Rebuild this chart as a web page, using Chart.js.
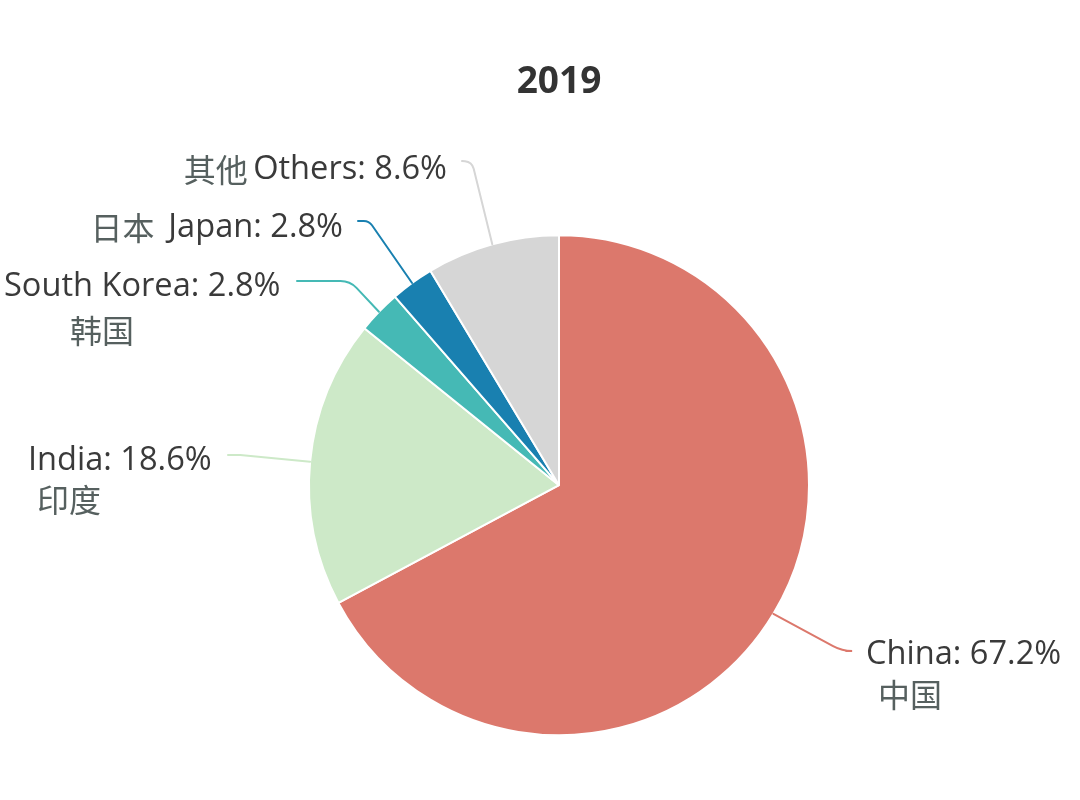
<!DOCTYPE html>
<html>
<head>
<meta charset="utf-8">
<script src="https://cdn.jsdelivr.net/npm/chart.js@4/dist/chart.umd.min.js"></script>
<style>
  html, body { margin: 0; padding: 0; background: #ffffff; }
  #wrap { width: 1080px; height: 800px; position: relative; }
</style>
</head>
<body>
<div id="wrap"><canvas id="c" width="1080" height="800"></canvas></div>
<script>
// ---- data ----
const titleText = '2019';
const categories = ['China', 'India', 'South Korea', 'Japan', 'Others'];
const categoriesCn = ['中国', '印度', '韩国', '日本', '其他'];
const shares = [67.2, 18.6, 2.8, 2.8, 8.6];
const sliceColors = ['#dc786c', '#cde9c8', '#45b9b5', '#1980b0', '#d6d6d6'];

// ---- label layout (text placement only) ----
// cnPos: 'below' = Chinese name on a second line, 'prefix' = before English name
const labelLayout = [
  { cnPos: 'below',  align: 'left',  x: 866, y: 655, x2: 878, y2: 695, elbow: [842, 651], end: [846, 651], r: 40 },
  { cnPos: 'below',  align: 'left',  x: 28,  y: 461, x2: 37,  y2: 500, elbow: [240, 455], end: [228, 455], r: 4 },
  { cnPos: 'below',  align: 'left',  x: 4,   y: 287, x2: 70,  y2: 331, elbow: [350, 281], end: [297, 281], r: 22 },
  { cnPos: 'prefix', align: 'right', x: 343, y: 228, sep: ' \u2009', elbow: [369, 221], end: [358, 221], r: 10 },
  { cnPos: 'prefix', align: 'right', x: 447, y: 170, sep: '\u2009',  elbow: [472, 162], end: [462, 161], r: 10 }
];

const LATIN_FONT = '32.6px "Open Sans", "Noto Sans CJK SC", sans-serif';
const CJK_FONT = '32px "Noto Sans CJK SC", "Open Sans", sans-serif';
const LATIN_COLOR = '#3a3a3a';
const CJK_COLOR = '#56605f';

function isCjk(ch) { return /[\u3000-\u9fff]/.test(ch); }
function runsOf(text) {
  const runs = [];
  for (const ch of text) {
    const c = isCjk(ch);
    if (runs.length && runs[runs.length - 1].cjk === c) runs[runs.length - 1].t += ch;
    else runs.push({ t: ch, cjk: c });
  }
  return runs;
}
function drawMixed(ctx, text, x, y, align) {
  const runs = runsOf(text);
  let total = 0;
  runs.forEach(r => { ctx.font = r.cjk ? CJK_FONT : LATIN_FONT; r.w = ctx.measureText(r.t).width; total += r.w; });
  let cx = align === 'right' ? x - total : x;
  ctx.textAlign = 'left';
  ctx.textBaseline = 'middle';
  runs.forEach(r => {
    ctx.font = r.cjk ? CJK_FONT : LATIN_FONT;
    ctx.fillStyle = r.cjk ? CJK_COLOR : LATIN_COLOR;
    ctx.fillText(r.t, cx, y);
    cx += r.w;
  });
}

const pieLabels = {
  id: 'pieLabels',
  afterDatasetsDraw(chart) {
    const ctx = chart.ctx;
    const meta = chart.getDatasetMeta(0);
    meta.data.forEach((arc, i) => {
      const p = arc.getProps(['x', 'y', 'startAngle', 'endAngle', 'outerRadius'], true);
      const mid = (p.startAngle + p.endAngle) / 2;
      const sx = p.x + Math.cos(mid) * p.outerRadius;
      const sy = p.y + Math.sin(mid) * p.outerRadius;
      const L = labelLayout[i];
      ctx.save();
      ctx.strokeStyle = sliceColors[i];
      ctx.lineWidth = 2;
      ctx.lineCap = 'round';
      ctx.beginPath();
      ctx.moveTo(sx, sy);
      ctx.arcTo(L.elbow[0], L.elbow[1], L.end[0], L.end[1], L.r);
      ctx.lineTo(L.end[0], L.end[1]);
      ctx.stroke();
      const main = categories[i] + ': ' + shares[i].toFixed(1) + '%';
      if (L.cnPos === 'prefix') {
        drawMixed(ctx, categoriesCn[i] + L.sep + main, L.x, L.y, L.align);
      } else {
        drawMixed(ctx, main, L.x, L.y, L.align);
        drawMixed(ctx, categoriesCn[i], L.x2, L.y2, 'left');
      }
      ctx.restore();
    });
  }
};

new Chart(document.getElementById('c'), {
  type: 'pie',
  data: {
    labels: categories,
    datasets: [{
      data: shares,
      backgroundColor: sliceColors,
      borderColor: '#ffffff',
      borderWidth: 2,
      radius: 250
    }]
  },
  options: {
    responsive: false,
    animation: false,
    layout: { padding: { top: 0, bottom: 65, left: 38, right: 0 } },
    plugins: {
      legend: { display: false },
      tooltip: { enabled: false },
      title: {
        display: true,
        text: titleText,
        color: '#333333',
        font: { family: '"Open Sans", sans-serif', size: 37, weight: 'bold', lineHeight: 1.2 },
        padding: { top: 60, bottom: 131 }
      }
    }
  },
  plugins: [pieLabels]
});
</script>
</body>
</html>
